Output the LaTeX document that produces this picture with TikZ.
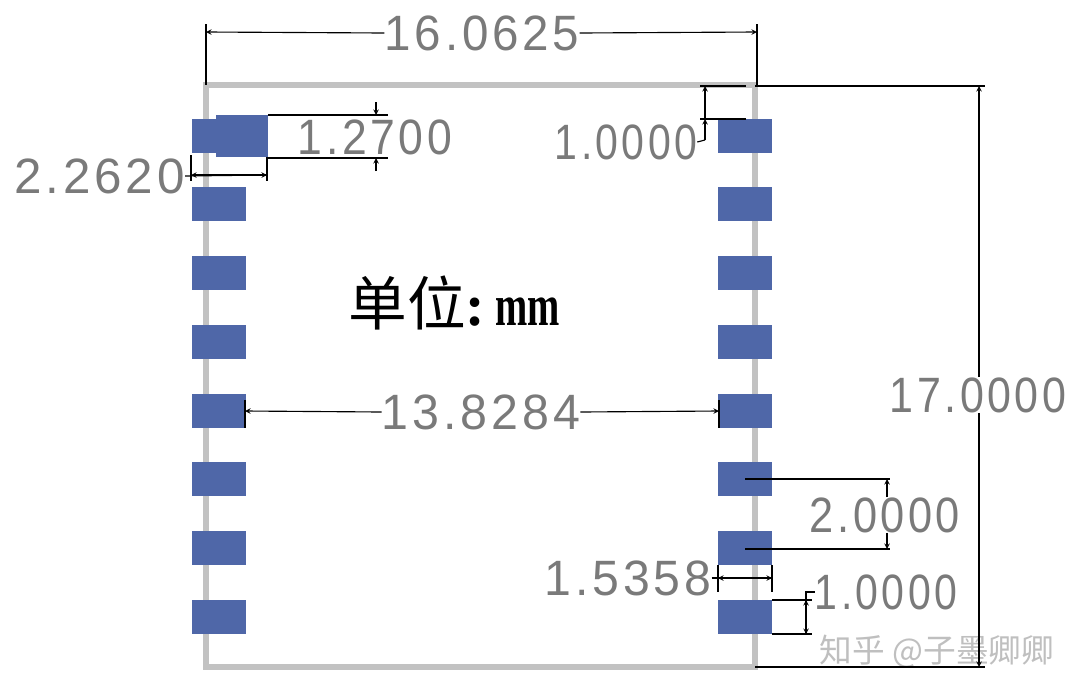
\documentclass[tikz,border=0pt]{standalone}
\usepackage{fontspec}
\setmainfont{Liberation Serif}
\newfontfamily\dimfont[LetterSpace=8]{Liberation Sans}
\newfontfamily\cjk{Noto Sans CJK SC}
\usepackage{graphicx}
\usepackage{tikz}
\usetikzlibrary{calc,arrows.meta,arrows,positioning}
\definecolor{padblue}{HTML}{4F67A8}
\definecolor{boardgray}{HTML}{C2C2C2}
\definecolor{dimgray}{HTML}{7A7A7A}
\newcommand{\dimval}[2]{\resizebox{#1pt}{26pt}{\dimfont #2}}
\tikzset{
  board/.style={draw=boardgray,line width=4.2pt},
  pad/.style={fill=padblue,draw=none,minimum width=40.5pt,minimum height=25.5pt,inner sep=0pt},
  dimtext/.style={inner sep=0pt,text=dimgray},
  extline/.style={black,line width=0.85pt}
}
\tikzstyle{dimarrow} = [black,line width=0.85pt,->,>=stealth]
\begin{document}
\begin{tikzpicture}[x=0.75pt,y=-0.75pt]
\useasboundingbox (0,0) rectangle (1080,697);
\draw[board] (206,85) rectangle (755,667);
\foreach \n/\y in {1/136,2/204,3/273,4/342,5/411,6/479,7/548,8/617}{
  \node[pad] (L\n) at (219,\y) {};
  \node[pad] (R\n) at (745,\y) {};
}
\node[pad,minimum width=39pt,minimum height=32pt] (Lwide) at (242,136) {};

\node[dimtext] (width) at (482,33) {\dimval{146}{16.0625}};
\node[dimtext] (height) at (978,395) {\dimval{132}{17.0000}};
\node[dimtext] (padw) at (375,137) {\dimval{115.5}{1.2700}};
\node[dimtext] (padl) at (99.5,176) {\dimval{128}{2.2620}};
\node[dimtext] (topgap) at (626,142) {\dimval{106.5}{1.0000}};
\node[dimtext] (span) at (481,412) {\dimval{148.5}{13.8284}};
\node[dimtext] (pitch) at (885,515) {\dimval{112.5}{2.0000}};
\node[dimtext] (pado) at (628,578) {\dimval{125}{1.5358}};
\node[dimtext] (botgap) at (886,592) {\dimval{106.5}{1.0000}};
\node[font=\fontsize{44}{44}\selectfont,inner sep=0pt] (unit) at (454,303) {{\cjk 单位}\textbf{:\,\scalebox{0.66}[1]{mm}}};
\node[font=\fontsize{24.5}{24.5}\selectfont\cjk,text=black!25,inner sep=0pt] (mark) at (937,652) {知乎 @子墨卿卿};

% overall width
\coordinate (wa) at (206,32); \coordinate (wb) at (757,32);
\draw[extline] (206,24)--(206,85); \draw[extline] (757,24)--(757,85);
\draw[dimarrow] (width.west)--(wa); \draw[dimarrow] (width.east)--(wb);
% overall height
\coordinate (ha) at (979,86); \coordinate (hb) at (979,667);
\draw[extline] (755,86)--(985,86); \draw[extline] (755,667)--(985,667);
\draw[dimarrow] (height.north -| ha)--(ha); \draw[dimarrow] (height.south -| hb)--(hb);
% pad width
\draw[extline] (268,115)--(388,115); \draw[extline] (268,158)--(388,158);
\coordinate (pa) at (376,102); \coordinate (pb) at (376,115);
\coordinate (pc) at (376,171); \coordinate (pd) at (376,158);
\draw[dimarrow] (pa)--(pb); \draw[dimarrow] (pc)--(pd);
% pad length
\draw[extline] (191,155)--(191,181); \draw[extline] (267,157)--(267,181);
\coordinate (la) at (191,175); \coordinate (lb) at (267,175);
\draw[dimarrow] (padl.east)--(lb); \draw[dimarrow] (lb)--(la);
% gap to top edge
\draw[extline] (700,86)--(746,86); \draw[extline] (700,119)--(746,119);
\coordinate (ga) at (705,86); \coordinate (gb) at (705,119); \coordinate (gc) at (705,140);
\draw[dimarrow] (gb)--(ga); \draw[dimarrow] (gc)--(gb); \draw[extline] (topgap.east)--(gc);
% pad to pad
\draw[extline] (245,400)--(245,428); \draw[extline] (719,400)--(719,428);
\coordinate (sa) at (245,411); \coordinate (sb) at (719,411);
\draw[dimarrow] (span.west)--(sa); \draw[dimarrow] (span.east)--(sb);
% pitch
\draw[extline] (745,479)--(890,479); \draw[extline] (745,549)--(890,549);
\coordinate (ta) at (887,479); \coordinate (tb) at (887,549);
\draw[dimarrow] (pitch.north -| ta)--(ta); \draw[dimarrow] (pitch.south -| tb)--(tb);
% outer pad length
\draw[extline] (718,565)--(718,592); \draw[extline] (772,565)--(772,592);
\coordinate (oa) at (718,578); \coordinate (ob) at (772,578);
\draw[dimarrow] (pado.east)--(ob); \draw[dimarrow] (ob)--(oa);
% bottom pad width
\draw[extline] (772,600)--(812,600); \draw[extline] (772,634)--(812,634);
\coordinate (ba) at (806,600); \coordinate (bb) at (806,634); \coordinate (bc) at (806,592);
\draw[dimarrow] (bb)--(ba); \draw[dimarrow] (ba)--(bb); \draw[extline] (ba)--(bc)--(botgap.west |- bc);
\end{tikzpicture}
\end{document}
